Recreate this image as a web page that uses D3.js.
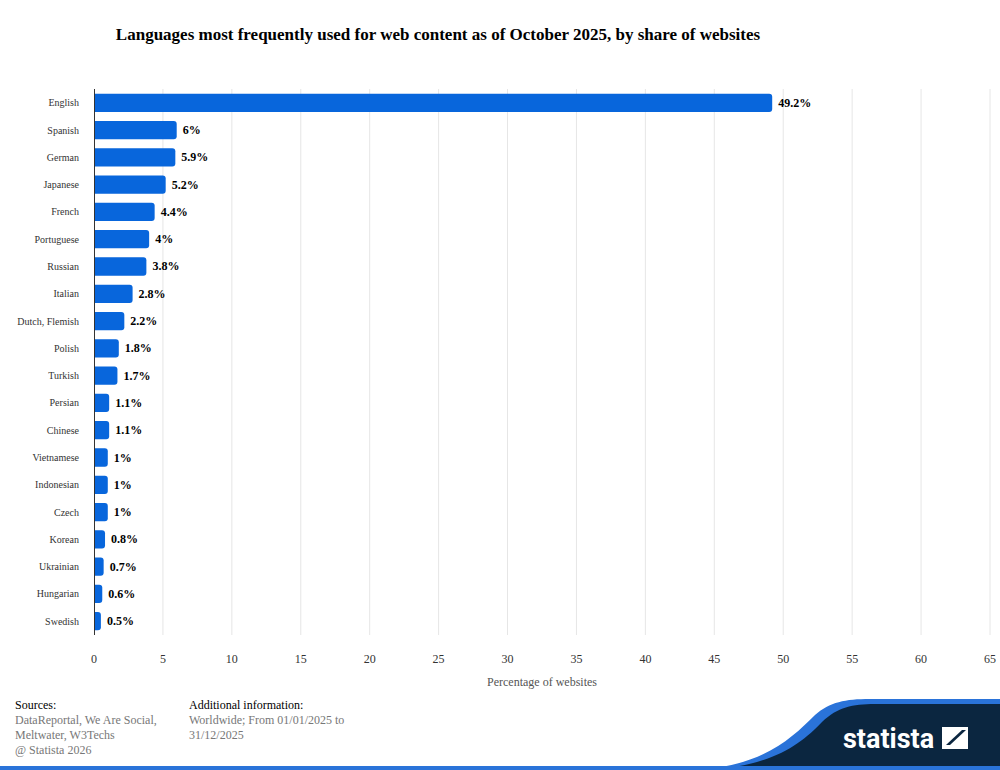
<!DOCTYPE html>
<html>
<head>
<style>
  body { margin: 0; background: #fff; font-family: "Liberation Serif", serif; }
  svg text { font-family: "Liberation Serif", serif; }
</style>
<script src="https://d3js.org/d3.v7.min.js"></script>
</head>
<body>
<svg id="chart" width="1000" height="770"></svg>
<script>
  var languages = ["English", "Spanish", "German", "Japanese", "French", "Portuguese", "Russian",
    "Italian", "Dutch, Flemish", "Polish", "Turkish", "Persian", "Chinese", "Vietnamese",
    "Indonesian", "Czech", "Korean", "Ukrainian", "Hungarian", "Swedish"];
  var shares = [49.2, 6, 5.9, 5.2, 4.4, 4, 3.8, 2.8, 2.2, 1.8, 1.7, 1.1, 1.1, 1, 1, 1, 0.8, 0.7, 0.6, 0.5];
  var xTicks = [0, 5, 10, 15, 20, 25, 30, 35, 40, 45, 50, 55, 60, 65];

  var svg = d3.select("#chart");

  svg.append("text").attr("x", 438).attr("y", 40).attr("text-anchor", "middle")
    .attr("font-size", 17).attr("font-weight", "bold").attr("fill", "#000")
    .text("Languages most frequently used for web content as of October 2025, by share of websites");

  var x = d3.scaleLinear().domain([0, 65]).range([94, 990]);
  var y = d3.scaleBand().domain(languages).range([89, 635]).paddingInner(0.33).paddingOuter(0.17);

  // grid
  svg.append("g").selectAll("line").data(xTicks.slice(1)).enter().append("line")
    .attr("x1", d => x(d)).attr("x2", d => x(d)).attr("y1", 89).attr("y2", 635)
    .attr("stroke", "#e6e6e6").attr("stroke-width", 1);

  // bars
  svg.append("g").selectAll("path").data(shares).enter().append("path")
    .attr("fill", "#0866dc")
    .attr("d", function(d, i) {
      var x0 = x(0), x1 = x(d), y0 = y(languages[i]), h = y.bandwidth(), r = Math.min(3, (x1 - x0) / 2);
      return "M" + x0 + "," + y0 + "H" + (x1 - r) + "Q" + x1 + "," + y0 + " " + x1 + "," + (y0 + r) +
        "V" + (y0 + h - r) + "Q" + x1 + "," + (y0 + h) + " " + (x1 - r) + "," + (y0 + h) + "H" + x0 + "Z";
    });

  // value labels
  svg.append("g").selectAll("text").data(shares).enter().append("text")
    .attr("x", d => x(d) + 6).attr("y", (d, i) => y(languages[i]) + y.bandwidth() / 2 + 4)
    .attr("font-size", 12).attr("font-weight", "bold").attr("fill", "#000")
    .text(d => d + "%");

  // y axis
  svg.append("line").attr("x1", 94.5).attr("x2", 94.5).attr("y1", 89).attr("y2", 635)
    .attr("stroke", "#333");
  svg.append("g").selectAll("text").data(languages).enter().append("text")
    .attr("x", 79).attr("y", d => y(d) + y.bandwidth() / 2 + 3.5)
    .attr("text-anchor", "end").attr("font-size", 10).attr("fill", "#333")
    .text(d => d);

  // x axis labels
  svg.append("g").selectAll("text").data(xTicks).enter().append("text")
    .attr("x", d => x(d)).attr("y", 663).attr("text-anchor", "middle")
    .attr("font-size", 12).attr("fill", "#333").text(d => d);
  svg.append("text").attr("x", 542).attr("y", 686).attr("text-anchor", "middle")
    .attr("font-size", 12).attr("fill", "#555").text("Percentage of websites");

  // footer text
  var foot = svg.append("g").attr("font-size", 12);
  foot.append("text").attr("x", 15).attr("y", 709).attr("fill", "#000").text("Sources:");
  ["DataReportal, We Are Social,", "Meltwater, W3Techs", "@ Statista 2026"].forEach(function(t, i) {
    foot.append("text").attr("x", 15).attr("y", 724 + i * 15).attr("fill", "#777").text(t);
  });
  foot.append("text").attr("x", 189).attr("y", 709).attr("fill", "#000").text("Additional information:");
  ["Worldwide; From 01/01/2025 to", "31/12/2025"].forEach(function(t, i) {
    foot.append("text").attr("x", 189).attr("y", 724 + i * 15).attr("fill", "#777").text(t);
  });

  // statista wave
  svg.append("path").attr("fill", "#2a73d9")
    .attr("d", "M690,770 C760,768 790,740 815,715 C830,702 845,699 870,699 H1000 V770 Z");
  svg.append("path").attr("fill", "#0b2640")
    .attr("d", "M700,770 C770,768 800,745 822,722 C838,707 852,704 875,704 H1000 V770 Z");
  svg.append("rect").attr("x", 0).attr("y", 766).attr("width", 1000).attr("height", 4).attr("fill", "#2a73d9");
  svg.append("text").attr("x", 843).attr("y", 748).attr("font-family", "Roboto, sans-serif")
    .attr("font-size", 27).attr("font-weight", "bold").attr("fill", "#fff")
    .style("font-family", "Roboto, 'Liberation Sans Narrow', sans-serif").text("statista");
  svg.append("rect").attr("x", 942).attr("y", 727).attr("width", 26).attr("height", 22).attr("fill", "#fff");
  svg.append("path").attr("fill", "#0b2640").attr("d", "M946,745 L962,730 L966,730 L950,745 Z");
</script>
</body>
</html>
